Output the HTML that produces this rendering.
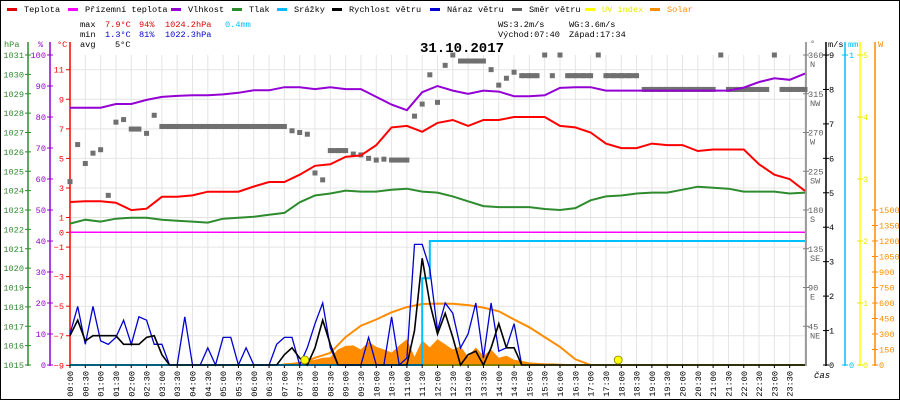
<!DOCTYPE html>
<html><head><meta charset="utf-8"><style>
html,body{margin:0;padding:0;background:#fff}
svg{display:block;font-family:"Liberation Mono","DejaVu Sans Mono",monospace}
</style></head><body>
<svg id="c" width="900" height="400" viewBox="0 0 900 400" xmlns="http://www.w3.org/2000/svg">
<rect x="0.5" y="0.5" width="899" height="399" fill="#fff" stroke="#000"/>
<g id="legend" font-size="8.6"></g>
<g font-size="8.6">
<text x="80" y="27">max</text><text x="105" y="27" fill="#e00000">7.9°C</text><text x="139" y="27" fill="#e00000">94%</text><text x="165" y="27" fill="#e00000">1024.2hPa</text><text x="225" y="27" fill="#00bfff">0.4mm</text>
<text x="80" y="37">min</text><text x="105" y="37" fill="#0000d0">1.3°C</text><text x="139" y="37" fill="#0000d0">81%</text><text x="165" y="37" fill="#0000d0">1022.3hPa</text>
<text x="80" y="47">avg</text><text x="115" y="47">5°C</text>
<text x="498" y="27">WS:3.2m/s</text><text x="569" y="27">WG:3.6m/s</text>
<text x="498" y="37">Východ:07:40</text><text x="569" y="37">Západ:17:34</text>
</g>
<text x="462" y="52" font-size="14" font-weight="bold" text-anchor="middle">31.10.2017</text>
<g id="grid"></g>
<g id="axes" font-size="8.6"></g>
<g id="series"></g>
<g id="xlabels" font-size="8.6"></g>
<text x="814" y="378" font-size="9" font-style="italic">čas</text>
</svg>
<script>
const temp30=[2.05,2.1,2.1,2.0,1.5,1.6,2.4,2.4,2.5,2.75,2.75,2.75,3.1,3.4,3.4,3.9,4.5,4.6,5.1,5.2,5.9,7.1,7.2,6.8,7.4,7.6,7.2,7.6,7.6,7.8,7.8,7.8,7.2,7.1,6.75,6.0,5.7,5.7,6.0,5.9,5.9,5.5,5.6,5.6,5.6,4.6,3.9,3.6,2.8];
const press30=[1022.3,1022.5,1022.4,1022.55,1022.6,1022.6,1022.5,1022.45,1022.4,1022.35,1022.55,1022.6,1022.65,1022.75,1022.85,1023.4,1023.75,1023.85,1024.0,1023.95,1023.95,1024.05,1024.1,1023.95,1023.9,1023.7,1023.45,1023.2,1023.15,1023.15,1023.15,1023.05,1023.0,1023.1,1023.5,1023.7,1023.75,1023.85,1023.9,1023.9,1024.05,1024.2,1024.15,1024.1,1023.95,1023.95,1023.95,1023.85,1023.9];
const hum30=[83,83,83,84.2,84.2,85.5,86.5,86.8,87,87,87.3,87.8,88.6,88.6,89.6,89.6,89,89.6,89,89,86.5,84,82.2,88,90,88.5,87.5,88.5,88.2,86.7,86.7,87,89.4,89.6,89.6,88.5,88.5,88.5,88.5,88.5,88.5,88.5,88.5,88.5,89.5,91.3,92.5,92,94];
const wind15=[0.85,1.3,0.7,0.85,0.85,0.85,0.85,0.6,0.6,0.6,0.8,0.85,0.3,0,0,0,0,0,0,0,0,0,0,0,0,0,0,0,0.3,0.5,0.2,0,0.5,1.3,0.6,0,0,0,0,0,0,0,0,0,0,1.0,3.1,1.8,0.9,1.5,0.8,0,0.3,0.4,0,0.5,1.2,0.5,0.5,0,0,0,0,0,0,0,0,0,0,0,0,0,0,0,0,0,0,0,0,0,0,0,0,0,0,0,0,0,0,0,0,0,0,0,0,0,0];
const gust15=[0.9,1.7,0.6,1.7,0.7,0.6,0.8,1.3,0.6,1.4,1.3,0.6,0.6,0,0,1.4,0,0,0.5,0,0.8,0.8,0,0.5,0,0,0,0.6,0.8,0.8,0,0.5,1.2,1.8,0.5,0,0,0,0,0.8,0,0,1.4,0,0.2,3.5,3.5,2.8,1.0,1.8,1.5,0.5,0.9,1.8,0.2,1.8,0.4,0.5,1.2,0,0,0,0,0,0,0,0,0,0,0,0,0,0,0,0,0,0,0,0,0,0,0,0,0,0,0,0,0,0,0,0,0,0,0,0,0,0];
const dir15=[213,256,234,246,250,197,282,285,274,274,269,290,277,277,277,277,277,277,277,277,277,277,277,277,277,277,277,277,277,272,270,268,223,215,249,249,249,245,244,240,238,239,238,238,238,289,303,337,305,348,360,353,353,353,353,343,325,333,340,336,336,336,360,336,360,336,336,336,336,360,336,336,336,336,336,320,320,320,320,320,320,320,320,320,320,360,320,320,320,320,320,320,360,320,320,320,320];
const rain15=[0,0,0,0,0,0,0,0,0,0,0,0,0,0,0,0,0,0,0,0,0,0,0,0,0,0,0,0,0,0,0,0,0,0,0,0,0,0,0,0,0,0,0,0,0,0,0.28,0.4,0.4,0.4,0.4,0.4,0.4,0.4,0.4,0.4,0.4,0.4,0.4,0.4,0.4,0.4,0.4,0.4,0.4,0.4,0.4,0.4,0.4,0.4,0.4,0.4,0.4,0.4,0.4,0.4,0.4,0.4,0.4,0.4,0.4,0.4,0.4,0.4,0.4,0.4,0.4,0.4,0.4,0.4,0.4,0.4,0.4,0.4,0.4,0.4,0.4];
const solar15=[0,0,0,0,0,0,0,0,0,0,0,0,0,0,0,0,0,0,0,0,0,0,0,0,0,0,0,0,15,20,30,40,50,70,75,150,185,190,150,225,175,150,120,190,250,80,240,170,250,200,150,180,80,170,90,150,70,90,50,40,25,20,15,15,12,10,8,5,0,0,0,0,0,0,0,0,0,0,0,0,0,0,0,0,0,0,0,0,0,0,0,0,0,0,0,0,0];
const solarMax30=[0,0,0,0,0,0,0,0,0,0,0,0,0,0,0,10,70,117,270,380,440,510,560,590,594,592,580,555,520,440,365,270,175,55,0,0,0,0,0,0,0,0,0,0,0,0,0,0,0];
const uv30=[0,0,0,0,0,0,0,0,0,0,0,0,0,0,0,0,0,0,0,0,0,0,0,0,0,0,0,0,0,0,0,0,0,0,0,0,0,0,0,0,0,0,0,0,0,0,0,0,0];
const sunMarkers=[460,1074];
const hpaTicks=[1015,1016,1017,1018,1019,1020,1021,1022,1023,1024,1025,1026,1027,1028,1029,1030,1031];
const humTicks=[0,10,20,30,40,50,60,70,80,90,100];
const tempTicks=[11,9,7,5,3,1,0,-1,-3,-5,-7,-9];
const dirTicks=[45,90,135,180,225,270,315,360];
const dirNames=["NE","E","SE","S","SW","W","NW","N"];
const windTicks=[0,1,2,3,4,5,6,7,8,9];
const rainTicks=[0,1];
const uvTicks=[0,1,2,3,4,5];
const solarTicks=[0,150,300,450,600,750,900,1050,1200,1350,1500];

const NS="http://www.w3.org/2000/svg";
const X0=70,X1=805,YB=365,YT=55;
const xT=m=>X0+m/1440*(X1-X0);
const yTemp=v=>232.3-v*14.78;
const yHpa=v=>YB-(v-1015)*(YB-YT)/16;
const yHum=v=>YB-v*(YB-YT)/100;
const yWind=v=>YB-v*(YB-YT)/9;
const yRain=v=>YB-v*(YB-YT);
const yDir=v=>YB-v*(YB-YT)/360;
const yUv=v=>YB-v*(YB-YT)/5;
const ySol=v=>YB-v*155/1500;
function mk(tag,attrs,parent){const e=document.createElementNS(NS,tag);for(const k in attrs)e.setAttribute(k,attrs[k]);parent.appendChild(e);return e;}
const G=id=>document.getElementById(id);

// legend
const legItems=[["Teplota","#e00000",7],["Přízemní teplota","#ff00ff",68],["Vlhkost","#9400d3",171],["Tlak","#2e8b2e",232],["Srážky","#00bfff",277],["Rychlost větru","#000",332],["Náraz větru","#0000d0",430],["Směr větru","#606060",512],["UV index","#ffff00",585],["Solar","#ff8c00",650]];
legItems.forEach(it=>{
  const g=mk('g',{},G('legend'));
  
  
  mk('rect',{x:it[2],y:8,width:10,height:3,fill:it[1]},g);
  const t=mk('text',{x:it[2]+17,y:12,fill:(it[0]==='UV index'?'#e8e800':it[1]==='#000'||it[0]==='Tlak'||it[0]==='Teplota'||it[0]==='Vlhkost'||it[0]==='Srážky'||it[0]==='Rychlost větru'||it[0]==='Náraz větru'||it[0]==='Směr větru'||it[0]==='Přízemní teplota'?'#000':it[1])},g);
  t.textContent=it[0];
});

// grid
for(let i=0;i<=48;i++){const x=X0+i*(X1-X0)/48;const l=mk('line',{x1:x,y1:YT,x2:x,y2:YB,stroke:'#e4e4e4'},G('grid'));}
tempTicks.forEach(t=>{if(t===0)return;const y=yTemp(t);const l=mk('line',{x1:X0,y1:y,x2:X1,y2:y,stroke:'#e4e4e4'},G('grid'));});

// axes
const A=G('axes');
function vaxis(x,col,name){const l=mk('line',{x1:x,y1:YT-13,x2:x,y2:YB+1,stroke:col,'stroke-width':1.5},A);}
vaxis(28,'#2e8b2e','hpa-axis');vaxis(50,'#9400d3','humidity-axis');vaxis(70,'#ff0000','temp-axis');
vaxis(806,'#808080','direction-axis');vaxis(826,'#000','wind-axis');vaxis(845,'#00bfff','rain-axis');vaxis(860,'#ffff00','uv-axis');vaxis(875,'#ff8c00','solar-axis');
function lab(x,y,txt,col,anchor,name){const t=mk('text',{x:x,y:y,fill:col,'text-anchor':anchor||'start'},A);t.textContent=txt;return t;}
lab(4,47,'hPa','#2e8b2e','start','hpa-unit');lab(38,47,'%','#9400d3','start','humidity-unit');lab(57,47,'°C','#ff0000','start','temp-unit');
lab(810,46,'°','#606060','start','direction-unit');lab(828,47,'m/s','#000','start','wind-unit');lab(848,47,'mm','#00bfff','start','rain-unit');lab(878,47,'W','#ff8c00','start','solar-unit');
hpaTicks.forEach(v=>{const y=yHpa(v);mk('line',{x1:25,y1:y,x2:31,y2:y,stroke:'#2e8b2e'},A);lab(24,y+3,String(v),'#2e8b2e','end','hpa-tick-label');});
humTicks.forEach(v=>{const y=yHum(v);mk('line',{x1:47,y1:y,x2:53,y2:y,stroke:'#9400d3'},A);lab(46,y+3,String(v),'#9400d3','end','humidity-tick-label');});
tempTicks.forEach(v=>{const y=yTemp(v);mk('line',{x1:66,y1:y,x2:70,y2:y,stroke:'#ff0000'},A);lab(64,y+3,String(v).replace('-','−'),'#ff0000','end','temp-tick-label');});
dirTicks.forEach((v,i)=>{const y=yDir(v);mk('line',{x1:803,y1:y,x2:809,y2:y,stroke:'#808080'},A);lab(808,y+3,String(v),'#606060','start','direction-tick-label');lab(810,y+12,dirNames[i],'#606060','start','direction-name-label');});
windTicks.forEach(v=>{const y=yWind(v);mk('line',{x1:823,y1:y,x2:829,y2:y,stroke:'#000'},A);lab(829,y+3,String(v),'#000','start','wind-tick-label');});
rainTicks.forEach(v=>{const y=yRain(v);mk('line',{x1:842,y1:y,x2:848,y2:y,stroke:'#00bfff'},A);lab(849,y+3,String(v),'#00bfff','start','rain-tick-label');});
uvTicks.forEach(v=>{const y=yUv(v);mk('line',{x1:857,y1:y,x2:863,y2:y,stroke:'#e8e800'},A);lab(863,y+3,String(v),'#e8e800','start','uv-tick-label');});
solarTicks.forEach(v=>{const y=ySol(v);mk('line',{x1:872,y1:y,x2:878,y2:y,stroke:'#ff8c00'},A);lab(879,y+3,String(v),'#ff8c00','start','solar-tick-label');});

// series
const S=G('series');
function pts(arr,step,yf){return arr.map((v,i)=>xT(i*step).toFixed(1)+','+yf(v).toFixed(1)).join(' ');}
// solar area
let sp='M'+xT(0)+','+YB+' ';
solar15.forEach((v,i)=>{sp+='L'+xT(i*15).toFixed(1)+','+ySol(v).toFixed(1)+' ';});
sp+='L'+xT(1440)+','+YB+' Z';
const sa=mk('path',{d:sp,fill:'#ff8c00',stroke:'none'},S);

const sm=mk('polyline',{points:solarMax30.map((v,i)=>v>0||(solarMax30[i-1]>0)||(solarMax30[i+1]>0)?xT(i*30).toFixed(1)+','+ySol(v).toFixed(1):null).filter(Boolean).join(' '),fill:'none',stroke:'#ff8c00','stroke-width':2},S);

// apparent temp line at 0
const ap=mk('line',{x1:X0,y1:yTemp(0),x2:X1,y2:yTemp(0),stroke:'#ff00ff','stroke-width':1.5},S);

// uv
const uv=mk('polyline',{points:pts(uv30,30,yUv),fill:'none',stroke:'#ffff00','stroke-width':2},S);

// wind direction
dir15.forEach((v,i)=>{
  const x=xT(i*15),y=yDir(v);
  const r=mk('rect',{x:x-2.5,y:y-2.5,width:5,height:5,fill:'#707070'},S);
  
  
  if(i<dir15.length-1&&dir15[i+1]===v){
    const b=mk('rect',{x:x,y:y-2.5,width:xT((i+1)*15)-x,height:5,fill:'#707070'},S);
    
    
  }
});
// rain
const rn=mk('polyline',{points:rain15.map((v,i)=>i>0?xT(i*15).toFixed(1)+','+yRain(rain15[i-1]).toFixed(1)+' '+xT(i*15).toFixed(1)+','+yRain(v).toFixed(1):xT(0)+','+yRain(v)).join(' '),fill:'none',stroke:'#00bfff','stroke-width':2},S);

// gust, wind
const gu=mk('polyline',{points:pts(gust15,15,yWind),fill:'none',stroke:'#0000d0','stroke-width':1.3},S);

const wi=mk('polyline',{points:pts(wind15,15,yWind),fill:'none',stroke:'#000','stroke-width':1.6},S);

// pressure, humidity, temperature
const pr=mk('polyline',{points:pts(press30,30,yHpa),fill:'none',stroke:'#2e8b2e','stroke-width':2},S);

const hu=mk('polyline',{points:pts(hum30,30,yHum),fill:'none',stroke:'#9400d3','stroke-width':2},S);

const te=mk('polyline',{points:pts(temp30,30,yTemp),fill:'none',stroke:'#ff0000','stroke-width':2},S);

// sunrise/sunset markers
sunMarkers.forEach(m=>{const c=mk('circle',{cx:xT(m),cy:YB-5,r:4,fill:'#ffff00',stroke:'#808000','stroke-width':0.8},S);});
// baseline
const bl=mk('line',{x1:X0,y1:YB,x2:X1,y2:YB,stroke:'#000','stroke-width':1},S);


// x labels
for(let i=0;i<48;i++){
  const m=i*30,x=xT(m);
  const hh=String(Math.floor(m/60)).padStart(2,'0'),mm=String(m%60).padStart(2,'0');
  mk('line',{x1:x,y1:YB,x2:x,y2:YB+3,stroke:'#000'},G('xlabels'));
  const t=mk('text',{x:0,y:0,transform:'translate('+(x+3)+','+(YB+6)+') rotate(-90)','text-anchor':'end'},G('xlabels'));
  
  
  t.textContent=hh+':'+mm;
}
</script>
</body></html>
